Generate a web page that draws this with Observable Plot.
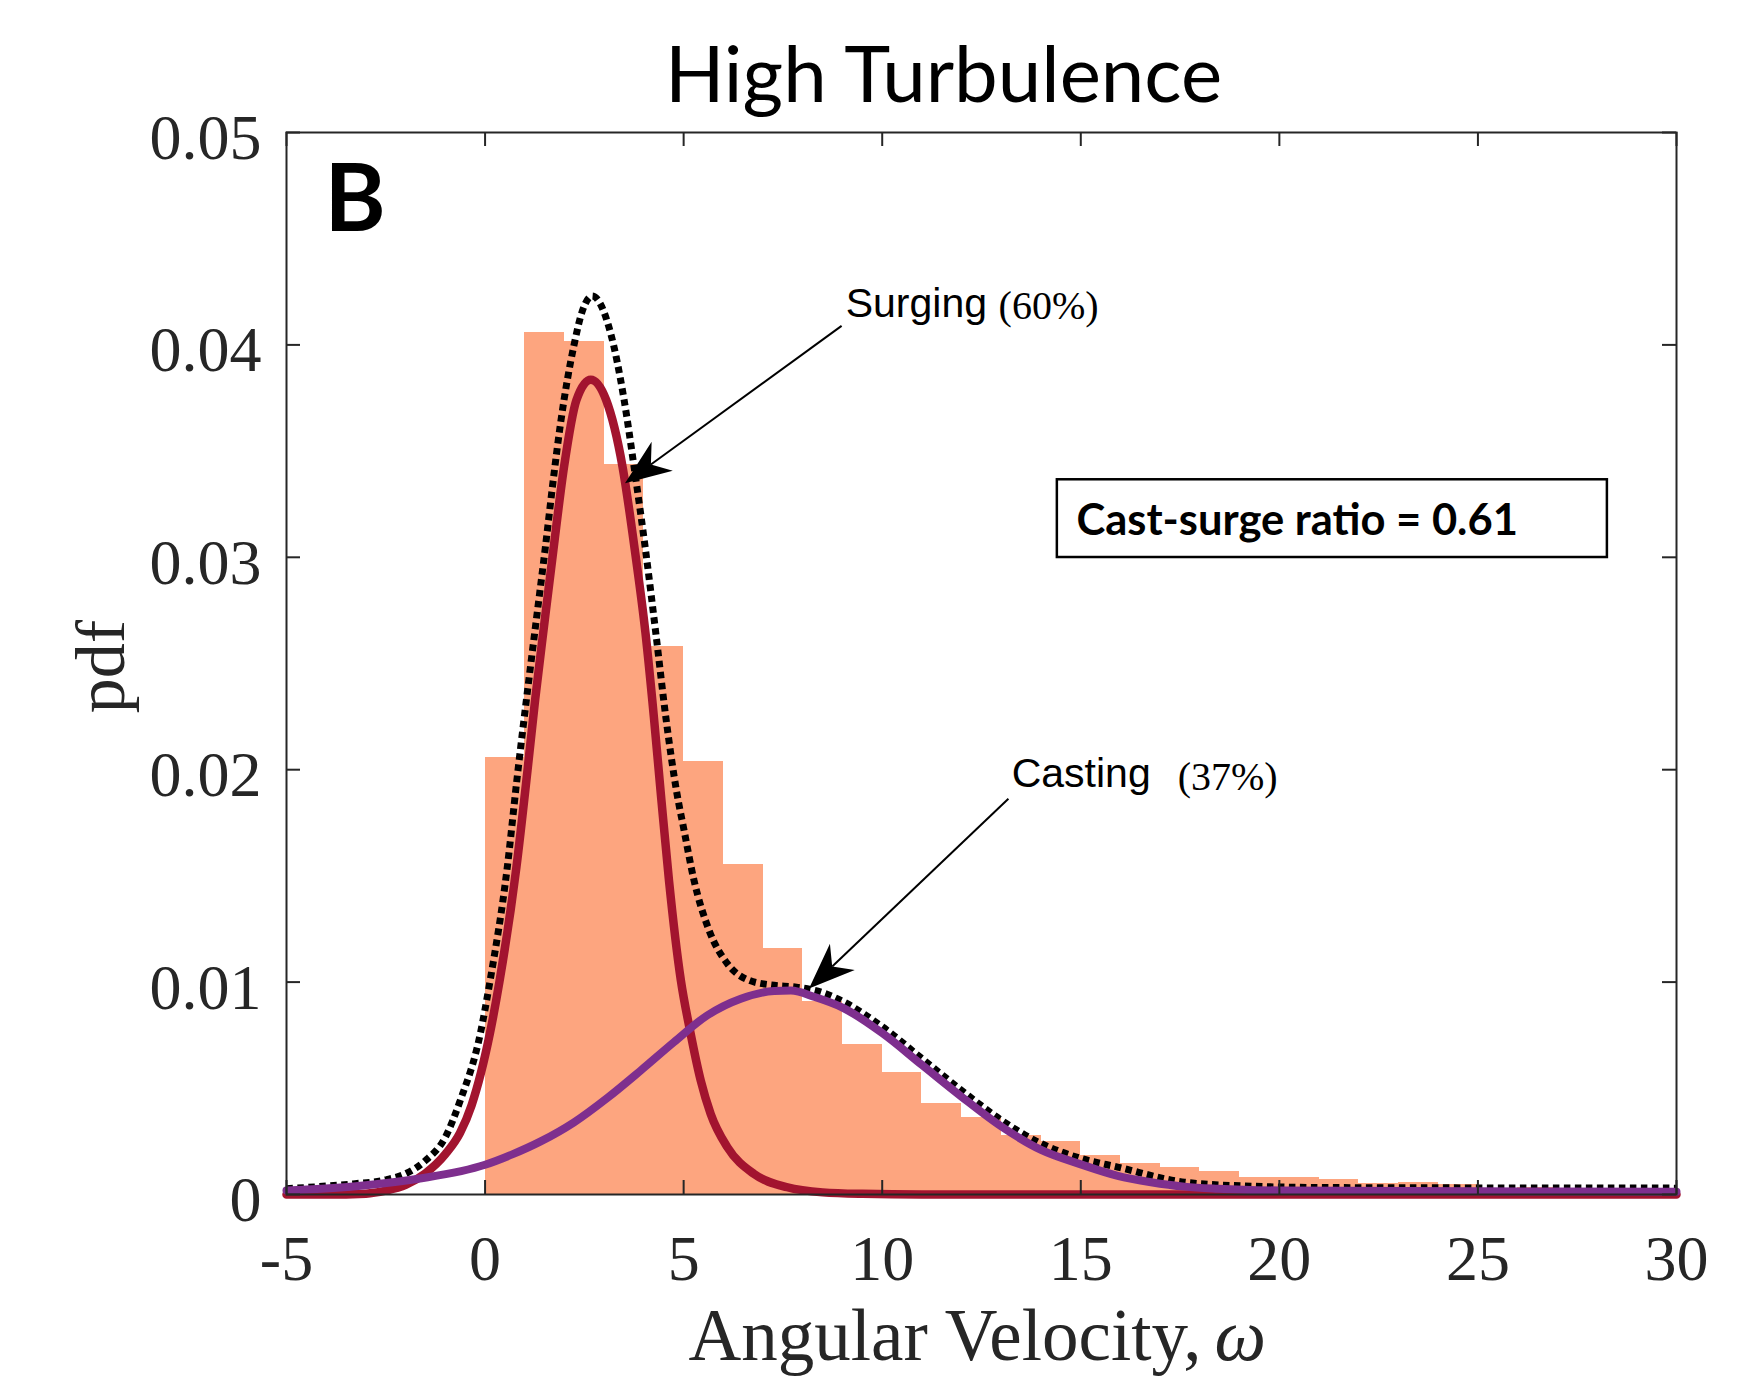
<!DOCTYPE html>
<html>
<head>
<meta charset="utf-8">
<script src="https://cdn.jsdelivr.net/npm/d3@7"></script>
<script src="https://cdn.jsdelivr.net/npm/@observablehq/plot@0.6"></script>
<style>
  html, body { margin: 0; padding: 0; background: #ffffff; }
  #chart svg { display: block; }
</style>
</head>
<body>
<div id="chart"></div>
<script>
// ---------- data ----------
// histogram bins (angular velocity) and pdf heights
const binLo = [0,1,2,3,4,5,6,7,8,9,10,11,12,13,14,15,16,17,18,19,20,21,22,23,24,25,26,27,28,29];
const binHi = [1,2,3,4,5,6,7,8,9,10,11,12,13,14,15,16,17,18,19,20,21,22,23,24,25,26,27,28,29,30];
const binPdf = [0.02059,0.04059,0.04014,0.03439,0.02582,0.02037,0.01552,0.01156,0.0091,0.00705,
                0.00576,0.00429,0.00361,0.0028,0.0025,0.00185,0.00148,0.00127,0.00107,0.00079,
                0.00079,0.00069,0.0005,0.00057,0.00049,0.0003,0.00032,0.00025,0.00022,0.0002];

// surging component (red)
const surgeX = [-5,-4,-3,-2.5,-2,-1.5,-1,-0.63,-0.34,0.12,0.36,0.79,1.07,1.26,1.5,1.72,1.99,2.3,2.66,3.05,3.46,3.77,4.04,4.25,4.44,4.63,4.93,5.16,5.43,5.68,6.1,6.77,7.61,8.5,9.5,11,30];
const surgeY = [0,0,0.00004,0.00018,0.00045,0.0010,0.0019,0.0029,0.0042,0.00757,0.0100,0.01542,0.0200,0.02328,0.0270,0.03035,0.03428,0.0374,0.03836,0.0374,0.03428,0.03035,0.02642,0.02249,0.01857,0.0148,0.01008,0.00773,0.00537,0.0038,0.00223,0.00097,0.00034,0.0001,0.00003,0,0];

// casting component (purple)
const castX = [-5,-3.32,-1.64,0,0.7,1.4,2.24,3.08,3.92,4.76,5.6,6.44,7.28,7.7,8.3,9,10,11,12,13,14,15,15.93,16.77,17.61,18.45,20,25,30];
const castY = [0.00019,0.00038,0.00075,0.0014,0.0019,0.0025,0.0034,0.00455,0.00584,0.00718,0.00844,0.00922,0.00958,0.0096,0.0093,0.0088,0.0076,0.0061,0.0046,0.0032,0.0021,0.00142,0.00088,0.00058,0.00037,0.00027,0.00019,0.00015,0.00013];

// total fit (black dotted)
const totalX = [-5,-4.2,-3.32,-2.48,-2,-1.5,-1,-0.63,-0.12,0.12,0.56,0.8,1.1,1.3,1.52,1.74,1.9,2.24,2.45,2.7,3.16,3.5,3.75,4.04,4.3,4.55,4.82,5.01,5.26,5.64,6.1,6.65,7.28,7.8,8.5,9,10,11,12,13,14,15,15.93,17.61,19.3,21,25,30];
const totalY = [0.00027,0.00037,0.0005,0.0007,0.00098,0.0016,0.0027,0.0044,0.00757,0.0100,0.01542,0.0195,0.0242,0.0272,0.0305,0.0340,0.0363,0.0400,0.0416,0.0423,0.04056,0.03742,0.03428,0.03035,0.02642,0.02249,0.0190,0.01715,0.0148,0.01244,0.01087,0.01008,0.00985,0.00977,0.0095,0.0091,0.0079,0.0064,0.0049,0.0035,0.0024,0.0017,0.00129,0.00058,0.00039,0.00033,0.00031,0.0003];

// ticks
const xTicks = [-5,0,5,10,15,20,25,30];
const yTicks = [0,0.01,0.02,0.03,0.04,0.05];

// annotations (data coordinates)
const nameText = ["Surging", "Casting"];
const nameX = [9.08, 13.26];
const nameY = [0.04133, 0.01918];
const pctText = ["(60%)", "(37%)"];
const pctX = [12.93, 17.44];
const pctY = [0.04123, 0.01904];
const arrowX1 = [8.99, 13.19];
const arrowY1 = [0.04087, 0.01861];
const arrowX2 = [3.536, 8.17];
const arrowY2 = [0.03346, 0.00967];
const ratioText = ["Cast-surge ratio = 0.61"];
const ratioX = [14.89];
const ratioY = [0.03106];
const boxX1 = [14.41], boxX2 = [28.26], boxY1 = [0.02999], boxY2 = [0.03365];

// ---------- layout & style ----------
const W = 1754, H = 1376;
const mL = 286, mR = 78, mT = 132, mB = 182;
const frameW = W - mL - mR, frameH = H - mT - mB;
const tickLen = 14;
const axisColor = "#262626";
const serif = "'Liberation Serif', 'Times New Roman', serif";
const sans = "'Liberation Sans', Arial, sans-serif";
const calibri = "Lato, 'Open Sans', sans-serif";
const histColor = "#FDA57F";

const bins = binLo.map((lo, i) => ({lo, hi: binHi[i], pdf: binPdf[i]}));
const pts = (xs, ys) => xs.map((x, i) => ({x, y: ys[i]}));
const surge = pts(surgeX, surgeY);
const cast = pts(castX, castY);
const total = pts(totalX, totalY);
const names = nameText.map((t, i) => ({t, x: nameX[i], y: nameY[i]}));
const pcts = pctText.map((t, i) => ({t, x: pctX[i], y: pctY[i]}));
const ratio = ratioText.map((t, i) => ({t, x: ratioX[i], y: ratioY[i]}));
const box = boxX1.map((v, i) => ({x1: v, x2: boxX2[i], y1: boxY1[i], y2: boxY2[i]}));

// arrows with filled swept-back heads, positioned through the plot scales
function arrows(index, scales) {
  const sx = scales.x, sy = scales.y;
  const g = d3.create("svg:g").attr("aria-label", "arrows");
  arrowX1.forEach((_, i) => {
    const x0 = sx(arrowX1[i]), y0 = sy(arrowY1[i]);
    const x1 = sx(arrowX2[i]), y1 = sy(arrowY2[i]);
    const dx = x0 - x1, dy = y0 - y1, len = Math.hypot(dx, dy);
    const ux = dx / len, uy = dy / len, nx = -uy, ny = ux;
    const L = 46, Wd = 18, N = 32;
    g.append("line")
      .attr("x1", x0).attr("y1", y0)
      .attr("x2", x1 + ux * N).attr("y2", y1 + uy * N)
      .attr("stroke", "#000").attr("stroke-width", 2);
    const p = [
      [x1, y1],
      [x1 + ux * L + nx * Wd, y1 + uy * L + ny * Wd],
      [x1 + ux * N, y1 + uy * N],
      [x1 + ux * L - nx * Wd, y1 + uy * L - ny * Wd]
    ];
    g.append("polygon").attr("points", p.map(q => q.join(",")).join(" ")).attr("fill", "#000");
  });
  return g.node();
}

const chart = Plot.plot({
  width: W,
  height: H,
  marginLeft: mL,
  marginRight: mR,
  marginTop: mT,
  marginBottom: mB,
  style: {background: "#ffffff", overflow: "visible"},
  x: {domain: [-5, 30], axis: null},
  y: {domain: [0, 0.05], axis: null},
  marks: [
    Plot.rectY(bins, {x1: "lo", x2: "hi", y: "pdf", fill: histColor, shapeRendering: "crispEdges"}),
    Plot.line(total, {x: "x", y: "y", stroke: "#000000", strokeWidth: 7, strokeDasharray: "6.5,4.5", strokeLinecap: "butt", strokeLinejoin: "miter", curve: "monotone-x"}),
    Plot.line(surge, {x: "x", y: "y", stroke: "#A2142F", strokeWidth: 8.5, curve: "monotone-x"}),
    Plot.line(cast, {x: "x", y: "y", stroke: "#7E2F8E", strokeWidth: 8, curve: "monotone-x"}),
    Plot.frame({stroke: axisColor, strokeWidth: 2}),
    Plot.tickX(xTicks, {x: d => d, stroke: axisColor, strokeWidth: 2, insetTop: frameH - tickLen}),
    Plot.tickX(xTicks, {x: d => d, stroke: axisColor, strokeWidth: 2, insetBottom: frameH - tickLen}),
    Plot.tickY(yTicks, {y: d => d, stroke: axisColor, strokeWidth: 2, insetRight: frameW - tickLen}),
    Plot.tickY(yTicks, {y: d => d, stroke: axisColor, strokeWidth: 2, insetLeft: frameW - tickLen}),
    Plot.axisX(xTicks, {anchor: "bottom", tickSize: 0, tickPadding: 40, fontSize: 64, fontFamily: serif, fill: axisColor, tickFormat: d => String(d), label: null}),
    Plot.axisY(yTicks, {anchor: "left", tickSize: 0, tickPadding: 25, fontSize: 64, fontFamily: serif, fill: axisColor, tickFormat: d => String(d), label: null, dy: 6}),
    // axis titles
    Plot.text(["Angular Velocity,"], {frameAnchor: "bottom", textAnchor: "end", lineAnchor: "bottom", dx: 220, dy: 165, fontSize: 73, fontFamily: serif, fill: axisColor}),
    Plot.text(["ω"], {frameAnchor: "bottom", textAnchor: "start", lineAnchor: "bottom", dx: 233, dy: 165, fontSize: 73, fontFamily: serif, fontStyle: "italic", fill: axisColor}),
    Plot.text(["pdf"], {frameAnchor: "left", textAnchor: "middle", rotate: -90, lineAnchor: "bottom", dx: -163, dy: 3, fontSize: 70, fontFamily: serif, fill: axisColor}),
    // title and panel letter
    Plot.text(["High Turbulence"], {frameAnchor: "top", textAnchor: "middle", lineAnchor: "bottom", dx: -38, dy: -31, fontSize: 78, fontFamily: calibri, fill: "#000"}),
    Plot.text(["B"], {frameAnchor: "top-left", textAnchor: "start", lineAnchor: "bottom", dx: 38, dy: 98, fontSize: 93, fontWeight: "bold", fontFamily: calibri, fill: "#000"}),
    // annotations
    Plot.rect(box, {x1: "x1", x2: "x2", y1: "y1", y2: "y2", fill: "#ffffff", stroke: "#000", strokeWidth: 2.5}),
    Plot.text(ratio, {x: "x", y: "y", text: "t", textAnchor: "start", lineAnchor: "bottom", fontSize: 43.5, fontWeight: "bold", fontFamily: calibri, fill: "#000"}),
    Plot.text(names, {x: "x", y: "y", text: "t", textAnchor: "start", lineAnchor: "bottom", fontSize: 41, fontFamily: sans, fill: "#000"}),
    Plot.text(pcts, {x: "x", y: "y", text: "t", textAnchor: "start", lineAnchor: "bottom", fontSize: 40, fontFamily: serif, fill: "#000"}),
    arrows
  ]
});

document.getElementById("chart").appendChild(chart);
</script>
</body>
</html>
